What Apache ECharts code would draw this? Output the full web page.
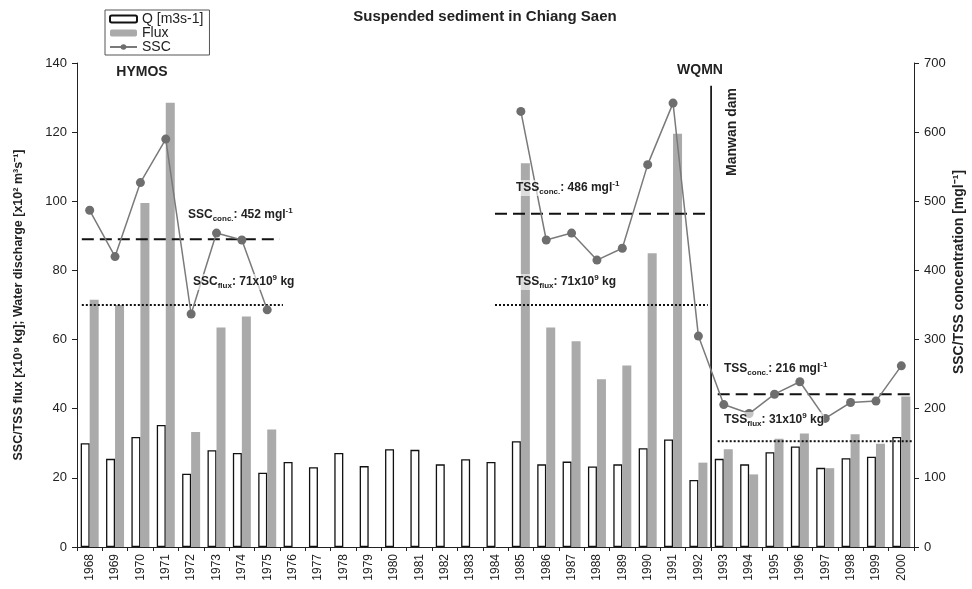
<!DOCTYPE html>
<html>
<head>
<meta charset="utf-8">
<script src="https://cdn.jsdelivr.net/npm/echarts@6/dist/echarts.min.js"></script>
<style>
html,body{margin:0;padding:0;background:#fff;}
#c{width:972px;height:589px;}
</style>
</head>
<body>
<div id="c"></div>
<script>
// ---- data ----
var years = ['1968','1969','1970','1971','1972','1973','1974','1975','1976','1977','1978','1979','1980','1981','1982','1983','1984','1985','1986','1987','1988','1989','1990','1991','1992','1993','1994','1995','1996','1997','1998','1999','2000'];
var discharge = [30, 25.5, 31.8, 35.3, 21.2, 28.0, 27.2, 21.5, 24.6, 23.1, 27.2, 23.4, 28.3, 28.1, 23.9, 25.4, 24.6, 30.6, 23.9, 24.7, 23.3, 23.9, 28.6, 31.1, 19.4, 25.5, 23.9, 27.4, 29.1, 22.9, 25.7, 26.1, 31.8];
var flux = [71.5, 70, 99.5, 128.5, 33.3, 63.5, 66.7, 34, null, null, null, null, null, null, null, null, null, 111, 63.5, 59.5, 48.5, 52.5, 85, 119.5, 24.4, 28.3, 21, 31.3, 32.8, 22.8, 32.6, 29.9, 43.5];
var ssc = [487, 420, 527, 590, 337, 454, 444, 343, null, null, null, null, null, null, null, null, null, 630, 444, 454, 415, 432, 553, 642, 305, 206, 193, 221, 239, 186, 209, 211, 262];
var leftTicks = [0, 20, 40, 60, 80, 100, 120, 140];
var rightTicks = [0, 100, 200, 300, 400, 500, 600, 700];
// mean lines: [xStart, xEnd (category units), value]
var concMeans = [[-0.31, 7.5, 445], [15.98, 24.37, 482], [24.76, 32.44, 221]];
var fluxMeans = [[-0.31, 7.62, 70], [15.98, 24.37, 70], [24.76, 32.44, 30.6]];
var damPos = 24.5, damTop = 133.4;

var FONT = 'Liberation Sans, Arial, Helvetica, sans-serif';
var chart = echarts.init(document.getElementById('c'));

var series = [
  {name:'Q [m3s-1]', type:'bar', xAxisIndex:0, yAxisIndex:0, data:discharge, barWidth:9, barGap:'0%',
   itemStyle:{color:'#ffffff', borderColor:'#111', borderWidth:1.3}},
  {name:'Flux', type:'bar', xAxisIndex:0, yAxisIndex:0, data:flux, barWidth:9, barGap:'0%',
   itemStyle:{color:'#aaaaaa'}},
  {name:'SSC', type:'line', xAxisIndex:0, yAxisIndex:1, data:ssc, connectNulls:false,
   symbol:'circle', symbolSize:9, lineStyle:{color:'#7a7a7a', width:1.5},
   itemStyle:{color:'#6e6e6e'}, z:5}
];
concMeans.forEach(function(m){
  series.push({type:'line', xAxisIndex:1, yAxisIndex:1, data:[[m[0],m[2]],[m[1],m[2]]], symbol:'none', silent:true,
    lineStyle:{color:'#111', width:2, type:[12,6]}, z:4});
});
fluxMeans.forEach(function(m){
  series.push({type:'line', xAxisIndex:1, yAxisIndex:0, data:[[m[0],m[2]],[m[1],m[2]]], symbol:'none', silent:true,
    lineStyle:{color:'#111', width:2, type:[2,2]}, z:4});
});
series.push({type:'line', xAxisIndex:1, yAxisIndex:0, data:[[damPos,0],[damPos,damTop]], symbol:'none', silent:true,
  lineStyle:{color:'#000', width:1.6}, z:4});

function annot(x, y, main, sub, rest, sup, tail){
  var txt = '{a|' + main + '}{s|' + sub + '}{a|' + rest + '}' + (sup ? '{p|' + sup + '}' : '') + (tail ? '{a|' + tail + '}' : '');
  return {type:'text', x:x, y:y, z:100, style:{text:txt, align:'left', verticalAlign:'middle',
    backgroundColor:'rgba(255,255,255,0.6)',
    rich:{
      a:{fontFamily:FONT, fontSize:12, fontWeight:'bold', fill:'#222', color:'#222', lineHeight:16},
      s:{fontFamily:FONT, fontSize:8, fontWeight:'bold', fill:'#222', color:'#222', lineHeight:10, verticalAlign:'bottom'},
      p:{fontFamily:FONT, fontSize:8, fontWeight:'bold', fill:'#222', color:'#222', lineHeight:10, verticalAlign:'top'}
    }}};
}

var option = {
  animation:false,
  backgroundColor:'#fff',
  title:{text:'Suspended sediment in Chiang Saen', left:480, top:4, textAlign:'center',
    textStyle:{fontFamily:FONT, fontSize:15, fontWeight:'bold', color:'#222'}},
  legend:{orient:'vertical', left:105, top:10, itemWidth:27, itemHeight:7, itemGap:0, padding:[2,6,1,4],
    borderColor:'#555', borderWidth:1, data:['Q [m3s-1]','Flux','SSC'],
    textStyle:{fontFamily:FONT, fontSize:14, color:'#222', lineHeight:12}},
  grid:{left:77, right:58, top:63, bottom:42, containLabel:false},
  xAxis:[
    {type:'category', data:years, gridIndex:0,
     axisLine:{onZero:false, lineStyle:{color:'#222', width:1}},
     axisTick:{show:true, interval:0, length:4, lineStyle:{color:'#222'}},
     axisLabel:{interval:0, rotate:90, fontFamily:FONT, fontSize:12, color:'#222', margin:7}},
    {type:'value', min:-0.5, max:32.5, show:false, gridIndex:0, axisLine:{onZero:false}}
  ],
  yAxis:[
    {type:'value', min:leftTicks[0], max:leftTicks[leftTicks.length-1], interval:leftTicks[1]-leftTicks[0], position:'left',
     axisLine:{show:true, onZero:false, lineStyle:{color:'#222'}}, axisTick:{show:true, length:5, lineStyle:{color:'#222'}},
     splitLine:{show:false}, axisLabel:{fontFamily:FONT, fontSize:13, color:'#222', margin:10}},
    {type:'value', min:rightTicks[0], max:rightTicks[rightTicks.length-1], interval:rightTicks[1]-rightTicks[0], position:'right',
     axisLine:{show:true, onZero:false, lineStyle:{color:'#222'}}, axisTick:{show:true, length:5, lineStyle:{color:'#222'}},
     splitLine:{show:false}, axisLabel:{fontFamily:FONT, fontSize:13, color:'#222', margin:10}}
  ],
  graphic:[
    {type:'text', x:19, y:305, rotation:Math.PI/2, z:100, style:{text:'SSC/TSS flux [x10\u2079 kg]; Water discharge [x10\u00b2 m\u00b3s\u207b\u00b9]',
      align:'center', verticalAlign:'middle', font:'bold 12.5px ' + FONT, fill:'#222'}},
    {type:'text', x:959, y:272, rotation:Math.PI/2, z:100, style:{text:'SSC/TSS concentration [mgl\u207b\u00b9]',
      align:'center', verticalAlign:'middle', font:'bold 14px ' + FONT, fill:'#222'}},
    {type:'text', x:142, y:72, z:100, style:{text:'HYMOS', align:'center', verticalAlign:'middle', font:'bold 14px ' + FONT, fill:'#222'}},
    {type:'text', x:700, y:70, z:100, style:{text:'WQMN', align:'center', verticalAlign:'middle', font:'bold 14px ' + FONT, fill:'#222'}},
    {type:'text', x:732, y:132, rotation:Math.PI/2, z:100, style:{text:'Manwan dam', align:'center', verticalAlign:'middle', font:'bold 14px ' + FONT, fill:'#222'}},
    annot(188, 215, 'SSC', 'conc.', ': 452 mgl', '-1'),
    annot(193, 282, 'SSC', 'flux', ': 71x10', '9', ' kg'),
    annot(516, 188, 'TSS', 'conc.', ': 486 mgl', '-1'),
    annot(516, 282, 'TSS', 'flux', ': 71x10', '9', ' kg'),
    annot(724, 369, 'TSS', 'conc.', ': 216 mgl', '-1'),
    annot(724, 420, 'TSS', 'flux', ': 31x10', '9', ' kg')
  ],
  series:series
};
chart.setOption(option);
</script>
</body>
</html>
